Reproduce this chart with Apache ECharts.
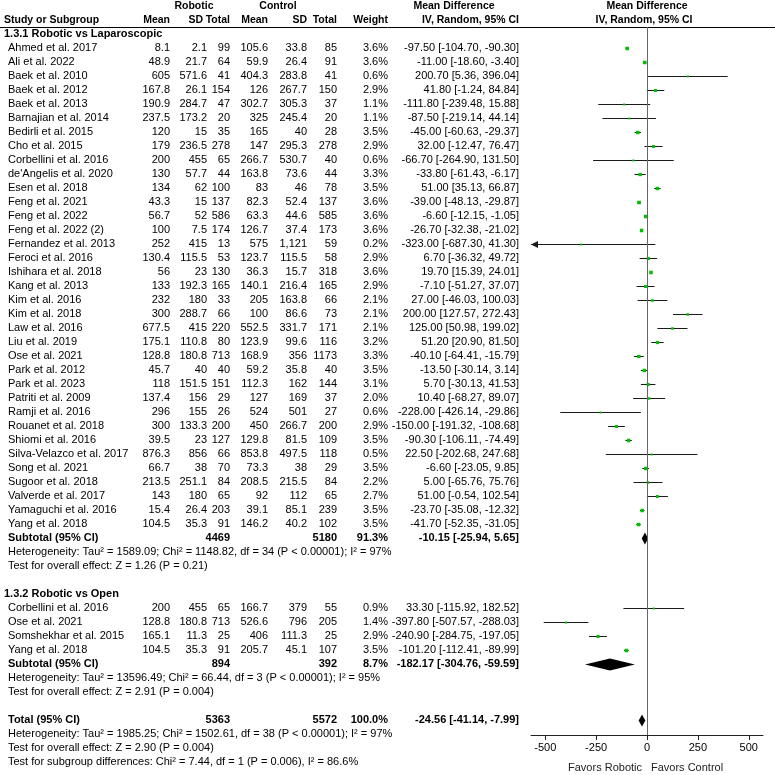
<!DOCTYPE html>
<html>
<head>
<meta charset="utf-8">
<script src="https://cdn.jsdelivr.net/npm/echarts@6/dist/echarts.min.js"></script>
<style>
  html, body { margin: 0; padding: 0; background: #fff; }
  #chart { width: 775px; height: 775px; }
</style>
</head>
<body>
<div id="chart"></div>
<script>
// ---- data: 1.3.1 Robotic vs Laparoscopic ----
const studies1 = ['Ahmed et al. 2017', 'Ali et al. 2022', 'Baek et al. 2010', 'Baek et al. 2012', 'Baek et al. 2013',
  'Barnajian et al. 2014', 'Bedirli et al. 2015', 'Cho et al. 2015', 'Corbellini et al. 2016', "de'Angelis et al. 2020",
  'Esen et al. 2018', 'Feng et al. 2021', 'Feng et al. 2022', 'Feng et al. 2022 (2)', 'Fernandez et al. 2013',
  'Feroci et al. 2016', 'Ishihara et al. 2018', 'Kang et al. 2013', 'Kim et al. 2016', 'Kim et al. 2018',
  'Law et al. 2016', 'Liu et al. 2019', 'Ose et al. 2021', 'Park et al. 2012', 'Park et al. 2023',
  'Patriti et al. 2009', 'Ramji et al. 2016', 'Rouanet et al. 2018', 'Shiomi et al. 2016', 'Silva-Velazco et al. 2017',
  'Song et al. 2021', 'Sugoor et al. 2018', 'Valverde et al. 2017', 'Yamaguchi et al. 2016', 'Yang et al. 2018'];
const robMean1 = [8.1, 48.9, 605, 167.8, 190.9, 237.5, 120, 179, 200, 130, 134, 43.3, 56.7, 100, 252, 130.4, 56, 133, 232, 300,
  677.5, 175.1, 128.8, 45.7, 118, 137.4, 296, 300, 39.5, 876.3, 66.7, 213.5, 143, 15.4, 104.5];
const robSD1 = [2.1, 21.7, 571.6, 26.1, 284.7, 173.2, 15, 236.5, 455, 57.7, 62, 15, 52, 7.5, 415, 115.5, 23, 192.3, 180, 288.7,
  415, 110.8, 180.8, 40, 151.5, 156, 155, 133.3, 23, 856, 38, 251.1, 180, 26.4, 35.3];
const robN1 = [99, 64, 41, 154, 47, 20, 35, 278, 65, 44, 100, 137, 586, 174, 13, 53, 130, 165, 33, 66,
  220, 80, 713, 40, 151, 29, 26, 200, 127, 66, 70, 84, 65, 203, 91];
const conMean1 = [105.6, 59.9, 404.3, 126, 302.7, 325, 165, 147, 266.7, 163.8, 83, 82.3, 63.3, 126.7, 575, 123.7, 36.3, 140.1, 205, 100,
  552.5, 123.9, 168.9, 59.2, 112.3, 127, 524, 450, 129.8, 853.8, 73.3, 208.5, 92, 39.1, 146.2];
const conSD1 = [33.8, 26.4, 283.8, 267.7, 305.3, 245.4, 40, 295.3, 530.7, 73.6, 46, 52.4, 44.6, 37.4, 1121, 115.5, 15.7, 216.4, 163.8, 86.6,
  331.7, 99.6, 356, 35.8, 162, 169, 501, 266.7, 81.5, 497.5, 38, 215.5, 112, 85.1, 40.2];
const conN1 = [85, 91, 41, 150, 37, 20, 28, 278, 40, 44, 78, 137, 585, 173, 59, 58, 318, 165, 66, 73,
  171, 116, 1173, 40, 144, 37, 27, 200, 109, 118, 29, 84, 65, 239, 102];
const weight1 = [3.6, 3.6, 0.6, 2.9, 1.1, 1.1, 3.5, 2.9, 0.6, 3.3, 3.5, 3.6, 3.6, 3.6, 0.2, 2.9, 3.6, 2.9, 2.1, 2.1,
  2.1, 3.2, 3.3, 3.5, 3.1, 2.0, 0.6, 2.9, 3.5, 0.5, 3.5, 2.2, 2.7, 3.5, 3.5];
const md1 = [-97.5, -11, 200.7, 41.8, -111.8, -87.5, -45, 32, -66.7, -33.8, 51, -39, -6.6, -26.7, -323, 6.7, 19.7, -7.1, 27, 200,
  125, 51.2, -40.1, -13.5, 5.7, 10.4, -228, -150, -90.3, 22.5, -6.6, 5, 51, -23.7, -41.7];
const lo1 = [-104.7, -18.6, 5.36, -1.24, -239.48, -219.14, -60.63, -12.47, -264.9, -61.43, 35.13, -48.13, -12.15, -32.38, -687.3, -36.32, 15.39, -51.27, -46.03, 127.57,
  50.98, 20.9, -64.41, -30.14, -30.13, -68.27, -426.14, -191.32, -106.11, -202.68, -23.05, -65.76, -0.54, -35.08, -52.35];
const hi1 = [-90.3, -3.4, 396.04, 84.84, 15.88, 44.14, -29.37, 76.47, 131.5, -6.17, 66.87, -29.87, -1.05, -21.02, 41.3, 49.72, 24.01, 37.07, 100.03, 272.43,
  199.02, 81.5, -15.79, 3.14, 41.53, 89.07, -29.86, -108.68, -74.49, 247.68, 9.85, 75.76, 102.54, -12.32, -31.05];
const sub1 = { robN: 4469, conN: 5180, weight: 91.3, md: -10.15, lo: -25.94, hi: 5.65 };
const het1 = 'Heterogeneity: Tau² = 1589.09; Chi² = 1148.82, df = 34 (P < 0.00001); I² = 97%';
const eff1 = 'Test for overall effect: Z = 1.26 (P = 0.21)';

// ---- data: 1.3.2 Robotic vs Open ----
const studies2 = ['Corbellini et al. 2016', 'Ose et al. 2021', 'Somshekhar et al. 2015', 'Yang et al. 2018'];
const robMean2 = [200, 128.8, 165.1, 104.5];
const robSD2 = [455, 180.8, 11.3, 35.3];
const robN2 = [65, 713, 25, 91];
const conMean2 = [166.7, 526.6, 406, 205.7];
const conSD2 = [379, 796, 111.3, 45.1];
const conN2 = [55, 205, 25, 107];
const weight2 = [0.9, 1.4, 2.9, 3.5];
const md2 = [33.3, -397.8, -240.9, -101.2];
const lo2 = [-115.92, -507.57, -284.75, -112.41];
const hi2 = [182.52, -288.03, -197.05, -89.99];
const sub2 = { robN: 894, conN: 392, weight: 8.7, md: -182.17, lo: -304.76, hi: -59.59 };
const het2 = 'Heterogeneity: Tau² = 13596.49; Chi² = 66.44, df = 3 (P < 0.00001); I² = 95%';
const eff2 = 'Test for overall effect: Z = 2.91 (P = 0.004)';

// ---- overall ----
const total = { robN: 5363, conN: 5572, weight: 100.0, md: -24.56, lo: -41.14, hi: -7.99 };
const hetT = 'Heterogeneity: Tau² = 1985.25; Chi² = 1502.61, df = 38 (P < 0.00001); I² = 97%';
const effT = 'Test for overall effect: Z = 2.90 (P = 0.004)';
const subgroupTest = 'Test for subgroup differences: Chi² = 7.44, df = 1 (P = 0.006), I² = 86.6%';

const xTicks = [-500, -250, 0, 250, 500];

// ---- layout ----
const X_MIN = -570, X_MAX = 570;
const FONT = '"Liberation Sans", Arial, sans-serif';
const REG = '11px ' + FONT;
const BOLD = 'bold 11px ' + FONT;
const HEAD = 'bold 10.5px ' + FONT;
const col = { rm: 170, rs: 207, rn: 230, cm: 268, cs: 307, cn: 337, w: 388, md: 519 };

// row slots (one slot = one text line)
const g1Start = 0;
const sub1Slot = g1Start + studies1.length;
const g2Head = sub1Slot + 4;
const g2Start = g2Head + 1;
const sub2Slot = g2Start + studies2.length;
const totSlot = sub2Slot + 4;

const chart = echarts.init(document.getElementById('chart'));

function num(v) { return v.toLocaleString('en-US', { maximumFractionDigits: 2 }); }
function ci(m, l, h) { return m.toFixed(2) + ' [' + l.toFixed(2) + ', ' + h.toFixed(2) + ']'; }

const studyData = [];
studies1.forEach((s, i) => studyData.push([md1[i], lo1[i], hi1[i], g1Start + i, weight1[i]]));
studies2.forEach((s, i) => studyData.push([md2[i], lo2[i], hi2[i], g2Start + i, weight2[i]]));
const diamondData = [
  [sub1.md, sub1.lo, sub1.hi, sub1Slot],
  [sub2.md, sub2.lo, sub2.hi, sub2Slot],
  [total.md, total.lo, total.hi, totSlot]
];

function renderStudy(params, api) {
  const md = api.value(0), lo = api.value(1), hi = api.value(2), slot = api.value(3), w = api.value(4);
  const a = api.coord([Math.max(lo, X_MIN), slot]);
  const b = api.coord([Math.min(hi, X_MAX), slot]);
  const m = api.coord([md, slot]);
  const y = Math.round(m[1]) + 0.5;
  const s = Math.max(2, 1.2 + 0.65 * w);
  const kids = [
    { type: 'line', shape: { x1: a[0], y1: y, x2: b[0], y2: y }, style: { stroke: '#1a1a1a', lineWidth: 1 } },
    { type: 'rect', shape: { x: m[0] - s / 2, y: y - s / 2, width: s, height: s }, style: { fill: '#00c000' } }
  ];
  if (lo < X_MIN) {
    kids.push({ type: 'polygon', shape: { points: [[a[0], y], [a[0] + 7, y - 3.5], [a[0] + 7, y + 3.5]] }, style: { fill: '#1a1a1a' } });
  }
  return { type: 'group', children: kids };
}

function renderDiamond(params, api) {
  const md = api.value(0), lo = api.value(1), hi = api.value(2), slot = api.value(3);
  const l = api.coord([lo, slot]), h = api.coord([hi, slot]), m = api.coord([md, slot]);
  const y = Math.round(m[1]) + 0.5;
  return {
    type: 'polygon',
    shape: { points: [[l[0], y], [m[0], y - 6], [h[0], y], [m[0], y + 6]] },
    style: { fill: '#000' }
  };
}

chart.setOption({
  animation: false,
  grid: { left: 531, right: 12, top: 27, bottom: 40 },
  xAxis: {
    type: 'value', min: X_MIN, max: X_MAX,
    splitLine: { show: false },
    axisLine: { onZero: false, lineStyle: { color: '#222', width: 1 } },
    axisTick: { customValues: xTicks, length: 5, lineStyle: { color: '#222' } },
    axisLabel: { customValues: xTicks, margin: 7, color: '#000', fontSize: 11, fontFamily: FONT }
  },
  yAxis: { type: 'value', min: -1.5, max: -1.5 + 708 / 14, inverse: true, show: false },
  series: [
    {
      type: 'custom', name: 'studies', renderItem: renderStudy, data: studyData, silent: true,
      markLine: {
        silent: true, symbol: 'none', label: { show: false },
        lineStyle: { color: '#666', width: 1, type: 'solid' },
        data: [{ xAxis: 0 }]
      }
    },
    { type: 'custom', name: 'pooled', renderItem: renderDiamond, data: diamondData, silent: true }
  ]
});

// ---- table text ----
const g = [];
function rowY(slot) { return chart.convertToPixel({ gridIndex: 0 }, [0, slot])[1]; }
function txt(str, x, slot, align, font) {
  g.push({
    type: 'text', x: x, y: rowY(slot), silent: true,
    style: { text: str, font: font || REG, fill: '#000', align: align || 'left', verticalAlign: 'middle',
      textAlign: align || 'left', textVerticalAlign: 'middle' }
  });
}
const zeroX = chart.convertToPixel({ gridIndex: 0 }, [0, 0])[0];

// header
txt('Robotic', 194, -3, 'center', HEAD);
txt('Control', 278, -3, 'center', HEAD);
txt('Mean Difference', 454, -3, 'center', HEAD);
txt('Mean Difference', zeroX, -3, 'center', HEAD);
txt('Study or Subgroup', 4, -2, 'left', HEAD);
[['Mean', col.rm], ['SD', col.rs - 4], ['Total', col.rn], ['Mean', col.cm], ['SD', col.cs], ['Total', col.cn], ['Weight', col.w],
 ['IV, Random, 95% CI', col.md]].forEach(h => txt(h[0], h[1], -2, 'right', HEAD));
txt('IV, Random, 95% CI', zeroX - 3, -2, 'center', HEAD);
g.push({ type: 'line', silent: true, shape: { x1: 0, y1: 27.5, x2: 775, y2: 27.5 }, style: { stroke: '#000', lineWidth: 1 } });

function studyRows(names, rm, rs, rn, cm, cs, cn, w, md, lo, hi, start) {
  names.forEach((n, i) => {
    const s = start + i;
    txt(n, 8, s);
    txt(num(rm[i]), col.rm, s, 'right');
    txt(num(rs[i]), col.rs, s, 'right');
    txt(String(rn[i]), col.rn, s, 'right');
    txt(num(cm[i]), col.cm, s, 'right');
    txt(num(cs[i]), col.cs, s, 'right');
    txt(String(cn[i]), col.cn, s, 'right');
    txt(w[i].toFixed(1) + '%', col.w, s, 'right');
    txt(ci(md[i], lo[i], hi[i]), col.md, s, 'right');
  });
}
function pooledRow(label, p, s) {
  txt(label, 8, s, 'left', BOLD);
  txt(String(p.robN), col.rn, s, 'right', BOLD);
  txt(String(p.conN), col.cn, s, 'right', BOLD);
  txt(p.weight.toFixed(1) + '%', col.w, s, 'right', BOLD);
  txt(ci(p.md, p.lo, p.hi), col.md, s, 'right', BOLD);
}

txt('1.3.1 Robotic vs Laparoscopic', 4, g1Start - 1, 'left', BOLD);
studyRows(studies1, robMean1, robSD1, robN1, conMean1, conSD1, conN1, weight1, md1, lo1, hi1, g1Start);
pooledRow('Subtotal (95% CI)', sub1, sub1Slot);
txt(het1, 8, sub1Slot + 1);
txt(eff1, 8, sub1Slot + 2);

txt('1.3.2 Robotic vs Open', 4, g2Head, 'left', BOLD);
studyRows(studies2, robMean2, robSD2, robN2, conMean2, conSD2, conN2, weight2, md2, lo2, hi2, g2Start);
pooledRow('Subtotal (95% CI)', sub2, sub2Slot);
txt(het2, 8, sub2Slot + 1);
txt(eff2, 8, sub2Slot + 2);

pooledRow('Total (95% CI)', total, totSlot);
txt(hetT, 8, totSlot + 1);
txt(effT, 8, totSlot + 2);
txt(subgroupTest, 8, totSlot + 3);

// favours labels under the axis
g.push({ type: 'text', x: zeroX - 5, y: 768, silent: true,
  style: { text: 'Favors Robotic', font: REG, fill: '#222', align: 'right', verticalAlign: 'middle', textAlign: 'right', textVerticalAlign: 'middle' } });
g.push({ type: 'text', x: zeroX + 4, y: 768, silent: true,
  style: { text: 'Favors Control', font: REG, fill: '#222', align: 'left', verticalAlign: 'middle', textAlign: 'left', textVerticalAlign: 'middle' } });

chart.setOption({ graphic: { elements: g } });
</script>
</body>
</html>
